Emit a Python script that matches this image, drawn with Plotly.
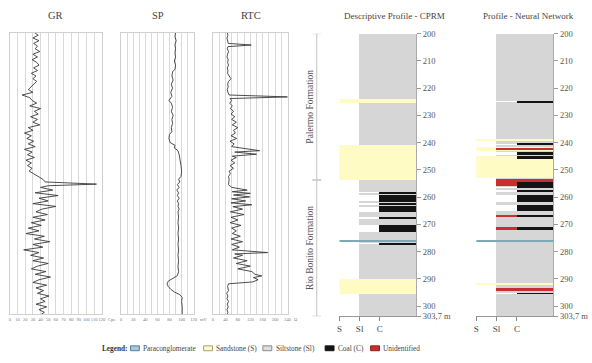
import plotly.graph_objects as go

W, H = 592, 363

# ---------------- data ----------------
gr_log = [
    (200, 32), (201, 37), (202, 30), (203, 38), (204, 31), (205, 36), (206, 33), (207, 39),
    (208, 30), (209, 36), (210, 29), (211, 35), (212, 38), (213, 31), (214, 36), (215, 28),
    (216, 34), (217, 30), (218, 35), (219, 31), (220, 27), (221, 24), (222, 30), (223, 16),
    (224, 26), (225, 29), (226, 35), (227, 26), (228, 40), (229, 32), (230, 37), (231, 27),
    (232, 36), (233, 30), (234, 39), (235, 24), (236, 30), (237, 19), (238, 28), (239, 22),
    (240, 31), (241, 24), (242, 33), (243, 19), (244, 29), (245, 23), (246, 32), (247, 21),
    (248, 28), (249, 23), (250, 29), (251, 25), (252, 31), (253, 37), (254, 43), (255, 46),
    (255.8, 113), (256.4, 50), (257, 40), (258, 56), (259, 33), (260, 63), (261, 38), (262, 50),
    (263, 30), (264, 60), (265, 42), (266, 34), (267, 49), (268, 30), (269, 46), (270, 28),
    (271, 41), (272, 24), (273, 38), (274, 21), (275, 45), (276, 32), (277, 52), (278, 30),
    (279, 43), (280, 18), (281, 38), (282, 27), (283, 44), (284, 30), (285, 50), (286, 36),
    (287, 28), (288, 47), (289, 33), (290, 53), (291, 38), (292, 30), (293, 48), (294, 34),
    (295, 44), (296, 36), (297, 51), (298, 40), (299, 46), (300, 34), (301, 48), (302, 38),
    (303, 45), (303.7, 41),
]

sp_log = [
    (200, 90), (201.5, 89), (203, 91), (204.5, 89), (206, 90), (207.5, 89), (209, 90), (210.5, 88),
    (212, 90), (213.5, 89), (214.5, 85), (216, 84), (217.5, 86), (219, 83), (220.5, 85), (222, 82),
    (223.5, 84), (225, 79), (226, 83), (227.5, 85), (229, 83), (230.5, 86), (232, 84), (233.5, 85),
    (235, 83), (236.5, 84), (237.5, 80), (239, 79), (240.5, 81), (241.5, 89), (242.5, 88),
    (243.5, 94), (245, 96), (247, 98), (249, 99), (251, 100), (253, 99), (254, 95), (255, 97),
    (256, 93), (257, 96), (258, 92), (259, 95), (260, 93), (261, 96), (262, 93), (263, 95),
    (264, 94), (265, 96), (266, 94), (268, 95), (270, 94), (272, 95), (274, 94), (276, 95),
    (278, 94), (280, 95), (282, 94), (284, 95), (286, 94), (288, 95), (289.5, 93), (290.5, 85),
    (291.5, 78), (292.5, 76), (293.5, 78), (294.5, 82), (295.5, 88), (296.5, 97), (297.5, 101),
    (299, 100), (301, 101), (303.7, 101),
]

rtc_log = [
    (200, 46), (201, 48), (202, 45), (203, 47), (204, 49), (204.6, 123), (205.2, 48), (206, 46),
    (207, 50), (208, 47), (209, 45), (210, 49), (211, 47), (212, 50), (213, 46), (214, 48),
    (215, 47), (216, 52), (217, 58), (218, 50), (219, 47), (220, 49), (221, 46), (222, 48),
    (223, 52), (223.7, 240), (224.3, 55), (225, 60), (226, 54), (227, 62), (228, 56), (229, 66),
    (230, 58), (231, 70), (232, 60), (233, 75), (234, 62), (235, 80), (236, 66), (237, 72),
    (238, 58), (239, 76), (240, 55), (241, 68), (242, 60), (243.5, 150), (244, 70), (244.8, 140),
    (245.5, 62), (246, 75), (247, 58), (248, 70), (249, 55), (250, 66), (251, 52), (252, 56),
    (253, 50), (254, 52), (255, 51), (256, 50), (257, 60), (258, 110), (258.6, 62), (259.2, 120),
    (259.8, 66), (260.5, 118), (261.2, 60), (262, 105), (262.7, 58), (263.4, 125), (264.1, 64),
    (265, 95), (266, 56), (267, 100), (268, 58), (269, 80), (270, 55), (271, 90), (272, 60),
    (273, 75), (274, 62), (275, 88), (276, 58), (277, 95), (278, 60), (279, 85), (280, 62),
    (281, 176), (281.5, 70), (282, 95), (283, 66), (284, 110), (285, 75), (286, 120), (287, 80),
    (288, 125), (289, 135), (289.6, 157), (290.2, 130), (291, 145), (291.8, 128), (292.5, 50),
    (293.5, 47), (295, 50), (296, 44), (297, 48), (298, 45), (299, 50), (300, 46), (301, 49),
    (302, 45), (303, 48), (303.7, 46),
]

gr_ticks = list(range(0, 121, 10))
gr_labels = [str(v) for v in gr_ticks]
sp_ticks = list(range(0, 121, 10))
sp_labels = [str(v) if v % 20 == 0 else "" for v in sp_ticks]
rtc_ticks = list(range(0, 241, 20))
rtc_labels = [str(v) if v % 40 == 0 else "" for v in rtc_ticks]
log_units = ["Cps", "mV", "Ω"]

depth_ticks = [200, 210, 220, 230, 240, 250, 260, 270, 280, 290, 300, 303.7]
depth_labels = ["200", "210", "220", "230", "240", "250", "260", "270", "280", "290", "300", "303,7 m"]
lith_axis_labels = ["S", "Sl", "C"]

# Descriptive profile (CPRM): interval top, base, lithology
cprm_top = [200, 223.8, 225.3, 240.6, 253.7, 258.0, 258.5, 259.2, 261.6, 262.2, 262.8, 263.3,
            265.4, 267.2, 267.8, 270.2, 272.5, 275.95, 276.25, 276.9, 277.2, 290.1, 295.4]
cprm_base = [223.8, 225.3, 240.6, 253.7, 258.0, 258.5, 259.2, 261.6, 262.2, 262.8, 263.3, 265.4,
             267.2, 267.8, 270.2, 272.5, 275.95, 276.25, 276.9, 277.2, 290.1, 295.4, 303.7]
cprm_lith = ["Sl", "S", "Sl", "S", "Sl", "C", "Sl", "C", "Sl", "C", "Sl", "C",
             "Sl", "C", "Sl", "C", "Sl", "P", "Sl", "C", "Sl", "S", "Sl"]

# Neural network profile
nn_top = [200, 224.6, 225.0, 238.4, 239.3, 240.2, 240.7, 241.6, 241.8, 242.8, 243.3, 244.5,
          244.9, 244.9, 252.8, 253.4, 254.5, 255.7, 255.9, 256.6, 257.1, 258.0, 259.2, 261.5,
          262.8, 265.1, 266.7, 266.8, 267.3, 271.0, 271.0, 271.9, 275.7, 276.0, 291.6, 292.1,
          293.6, 294.2, 295.1, 295.4]
nn_base = [224.6, 225.0, 238.4, 239.3, 240.2, 240.7, 241.6, 242.8, 242.6, 243.3, 244.5, 244.9,
           252.8, 246.0, 253.4, 255.7, 255.7, 255.9, 256.6, 257.1, 258.0, 259.2, 261.5, 262.8,
           265.1, 266.7, 267.3, 267.2, 271.0, 271.9, 271.9, 275.7, 276.0, 291.6, 292.1, 293.6,
           294.2, 295.1, 295.4, 303.7]
nn_lith = ["Sl", "C", "Sl", "S", "Sl", "C", "Sl", "S", "U", "Sl", "C", "Sl",
           "S", "C", "Sl", "U", "C", "Sl", "C", "Sl", "C", "Sl", "C", "Sl",
           "C", "Sl", "U", "C", "Sl", "U", "C", "Sl", "P", "Sl", "S", "Sl",
           "U", "Sl", "C", "Sl"]

formation_names = ["Palermo Formation", "Rio Bonito Formation"]
formation_top = [200, 253.7]
formation_base = [253.7, 303.7]

legend_codes = ["P", "S", "Sl", "C", "U"]
legend_labels = ["Paraconglomerate", "Sandstone (S)", "Siltstone (Sl)", "Coal (C)", "Unidentified"]

# ---------------- styles ----------------
FONT = "Liberation Serif"
LITH_START = {"P": 0, "S": 0, "Sl": 1, "U": 1, "C": 2}
LITH_COLOR = {"P": "#7eaab6", "S": "#fffbc4", "Sl": "#d6d6d6", "C": "#141414", "U": "#c8302f"}
LEG_FILL = {"P": "#a9c6da", "S": "#fbf8d0", "Sl": "#dedede", "C": "#141414", "U": "#c8302f"}
LEG_LINE = {"P": "#52809e", "S": "#a8a36a", "Sl": "#8a8a8a", "C": "#141414", "U": "#8a1c1c"}
DRAW_ORDER = ["Sl", "S", "P", "U", "C"]
EDGE = 3.8


def fx(px):
    return px / W


def fy(py):
    return 1 - py / H


LOG_YDOM = [fy(318), fy(28.3)]
PRO_YDOM = [fy(320), fy(29.5)]

fig = go.Figure()

for log, xa, ya in [(gr_log, "x", "y"), (sp_log, "x2", "y2"), (rtc_log, "x3", "y3")]:
    fig.add_trace(go.Scatter(
        x=[v for d, v in log], y=[d for d, v in log], mode="lines",
        line=dict(color="#3a3a3a", width=0.9), xaxis=xa, yaxis=ya,
        showlegend=False, hoverinfo="skip"))

for tops, bases, liths, xa, ya in [(cprm_top, cprm_base, cprm_lith, "x4", "y4"),
                                   (nn_top, nn_base, nn_lith, "x5", "y5")]:
    for code in DRAW_ORDER:
        idx = [i for i, l in enumerate(liths) if l == code]
        if not idx:
            continue
        fig.add_trace(go.Bar(
            orientation="h",
            y=[(tops[i] + bases[i]) / 2 for i in idx],
            width=[bases[i] - tops[i] for i in idx],
            x=[EDGE - LITH_START[code]] * len(idx),
            base=[LITH_START[code]] * len(idx),
            marker=dict(color=LITH_COLOR[code], line=dict(width=0)),
            xaxis=xa, yaxis=ya, showlegend=False, hoverinfo="skip"))

log_x = dict(showgrid=True, gridcolor="#d9d9d9", gridwidth=1, showline=True, mirror=True,
             linecolor="#d0d0d0", linewidth=1, zeroline=False, ticks="", tickangle=0,
             tickfont=dict(family=FONT, size=4.5, color="#777"), fixedrange=True)
log_y = dict(domain=LOG_YDOM, range=[303.7, 200], showticklabels=False, ticks="",
             showgrid=False, zeroline=False, showline=True, mirror=True,
             linecolor="#d0d0d0", linewidth=1, fixedrange=True)
pro_x = dict(range=[0, EDGE], tickvals=[0, 1, 2], ticktext=lith_axis_labels, ticks="outside",
             ticklen=4, tickcolor="#888", showline=True, linecolor="#999", linewidth=1,
             showgrid=False, zeroline=False, tickfont=dict(family=FONT, size=9, color="#444"),
             fixedrange=True)
pro_y = dict(domain=PRO_YDOM, range=[303.7, 200], side="right", tickvals=depth_ticks,
             ticktext=depth_labels, ticks="outside", ticklen=4, tickcolor="#999",
             showline=True, linecolor="#aaa", linewidth=1, showgrid=False, zeroline=False,
             tickfont=dict(family=FONT, size=8.5, color="#555"), fixedrange=True)

LOG_X_PX = [(7, 100), (119.5, 193), (212.5, 288)]

fig.update_layout(
    width=W, height=H, margin=dict(l=0, r=0, t=0, b=0, pad=0),
    paper_bgcolor="white", plot_bgcolor="white", barmode="overlay", bargap=0,
    showlegend=False,
    font=dict(family=FONT, color="#444"),
    xaxis=dict(domain=[fx(LOG_X_PX[0][0]), fx(LOG_X_PX[0][1])], range=[0, 120],
               tickvals=gr_ticks, ticktext=gr_labels, anchor="y", **log_x),
    xaxis2=dict(domain=[fx(LOG_X_PX[1][0]), fx(LOG_X_PX[1][1])], range=[0, 120],
                tickvals=sp_ticks, ticktext=sp_labels, anchor="y2", **log_x),
    xaxis3=dict(domain=[fx(LOG_X_PX[2][0]), fx(LOG_X_PX[2][1])], range=[0, 240],
                tickvals=rtc_ticks, ticktext=rtc_labels, anchor="y3", **log_x),
    xaxis4=dict(domain=[fx(340.5), fx(418)], anchor="y4", **pro_x),
    xaxis5=dict(domain=[fx(479), fx(557)], anchor="y5", **pro_x),
    yaxis=dict(anchor="x", **log_y),
    yaxis2=dict(anchor="x2", **log_y),
    yaxis3=dict(anchor="x3", **log_y),
    yaxis4=dict(anchor="x4", **pro_y),
    yaxis5=dict(anchor="x5", **pro_y),
)

annotations = []
for text, cx, size in [("GR", 53, 10.5), ("SP", 157, 10.5), ("RTC", 251, 10.5),
                       ("Descriptive Profile - CPRM", 396, 9), ("Profile - Neural Network", 532, 9)]:
    annotations.append(dict(text=text, x=fx(cx), y=fy(11), xref="paper", yref="paper",
                            showarrow=False, xanchor="center", yanchor="middle",
                            font=dict(family=FONT, size=size, color="#444")))

# unit labels after the last tick of each log track
for unit, (x0, x1) in zip(log_units, LOG_X_PX):
    annotations.append(dict(text=unit, x=fx(x1 + 4), y=fy(323), xref="paper", yref="paper",
                            showarrow=False, xanchor="left", yanchor="middle",
                            font=dict(family=FONT, size=4.5, color="#777")))

shapes = []
for name, top, base in zip(formation_names, formation_top, formation_base):
    shapes.append(dict(type="line", xref="paper", yref="y4", x0=fx(317.5), x1=fx(317.5),
                       y0=top, y1=base, line=dict(color="#c4c4c4", width=1)))
    for d in (top, base):
        shapes.append(dict(type="line", xref="paper", yref="y4", x0=fx(313), x1=fx(322),
                           y0=d, y1=d, line=dict(color="#c4c4c4", width=1)))
    annotations.append(dict(text=name, x=fx(310.5), y=(top + base) / 2, xref="paper", yref="y4",
                            showarrow=False, textangle=-90, xanchor="center", yanchor="middle",
                            font=dict(family=FONT, size=9.5, color="#555")))

# custom legend row
LEG_Y = 353
annotations.append(dict(text="<b>Legend:</b>", x=fx(98), y=fy(LEG_Y), xref="paper", yref="paper",
                        showarrow=False, xanchor="left", yanchor="middle",
                        font=dict(family=FONT, size=7.3, color="#333")))
box_lefts = [129, 203, 263, 326, 372]
for code, label, bx in zip(legend_codes, legend_labels, box_lefts):
    shapes.append(dict(type="rect", xref="paper", yref="paper", x0=fx(bx), x1=fx(bx + 9),
                       y0=fy(LEG_Y + 2.5), y1=fy(LEG_Y - 2.5), fillcolor=LEG_FILL[code],
                       line=dict(color=LEG_LINE[code], width=1)))
    annotations.append(dict(text=label, x=fx(bx + 11), y=fy(LEG_Y), xref="paper", yref="paper",
                            showarrow=False, xanchor="left", yanchor="middle",
                            font=dict(family=FONT, size=7.3, color="#444")))

fig.update_layout(annotations=annotations, shapes=shapes)
fig.write_html("out.html")
